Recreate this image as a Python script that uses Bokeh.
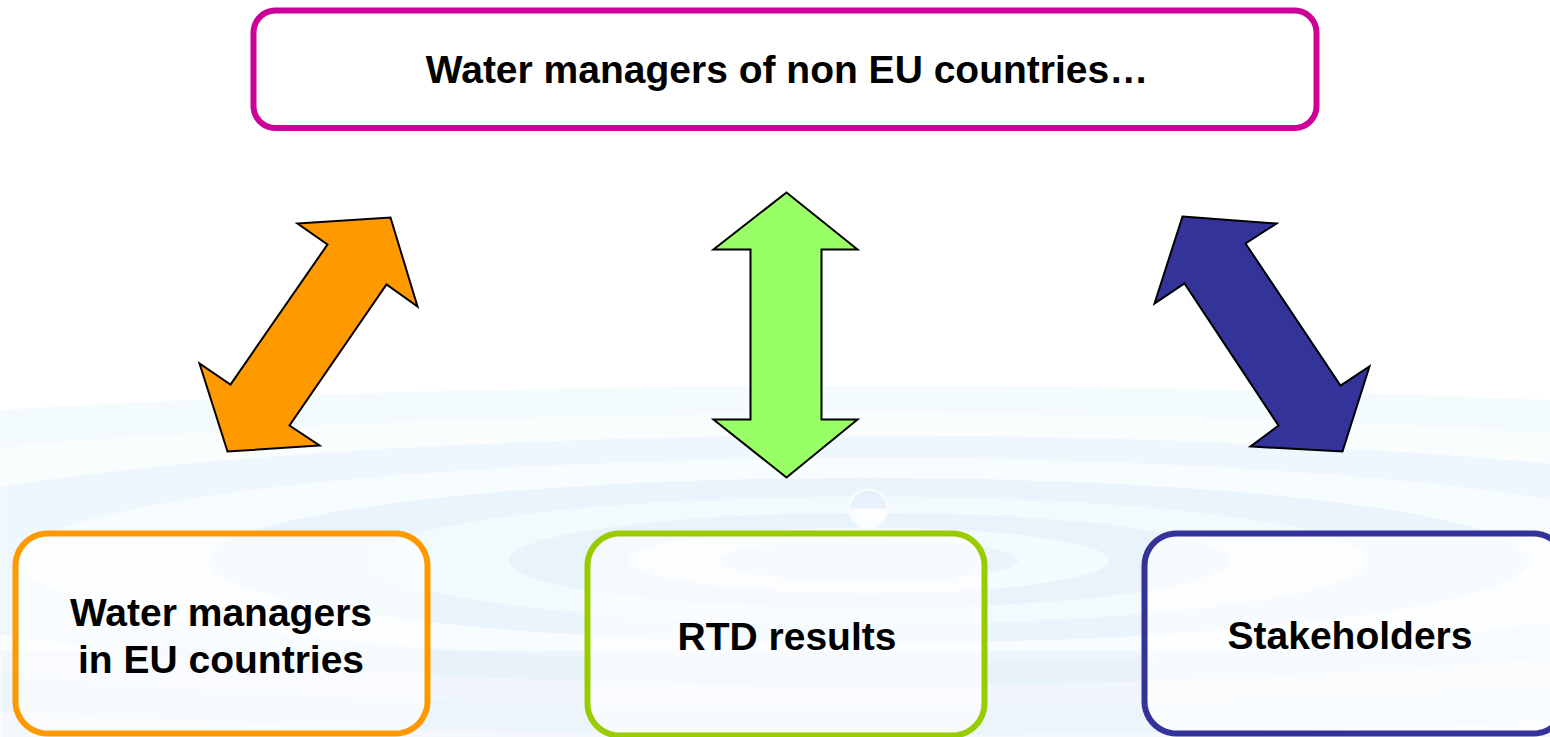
import numpy as np
from bokeh.plotting import figure
from bokeh.models import Range1d
from bokeh.core.properties import value
from bokeh.embed import file_html
from bokeh.resources import INLINE

# ---------------- data ----------------
box_labels = ["top", "eu", "rtd", "stake"]
box_left = [253, 15, 587, 1144]
box_right = [1316, 427, 984, 1565]
box_top = [10, 533, 533, 533]
box_bottom = [127.5, 733, 735, 733]
box_radius = [22, 32, 32, 32]
box_colors = ["#CC0099", "#FF9900", "#99CC00", "#333399"]

text_lines = ["Water managers of non EU countries\u2026", "Water managers", "in EU countries",
              "RTD results", "Stakeholders"]
text_x = [786.5, 220.5, 220.5, 786.5, 1349.5]
text_y = [69, 612, 659, 636, 635]

arrow_colors = ["#FF9900", "#99FF66", "#333399"]
arrow_xs = [
    [297, 390, 417, 386, 289, 319, 227, 199, 230, 327],
    [786, 857, 821, 821, 857, 786, 713, 750, 750, 713],
    [1182, 1276, 1245, 1340, 1369, 1342, 1250, 1278, 1184, 1154],
]
arrow_ys = [
    [223, 217, 306, 284, 425, 445, 451, 363, 384, 244],
    [192, 249, 249, 419, 419, 477, 419, 419, 249, 249],
    [216, 223, 243, 385, 366, 451, 446, 425, 283, 303],
]

# background ripple rings (centre of the drop)
ring_cx = 868
ring_cy = 560
ring_w = [3400, 2700, 2150, 1700, 1320, 1000, 720, 480, 300]
ring_h = [350, 295, 250, 205, 165, 128, 95, 66, 42]
ring_colors = ["#EAF7FC", "#FFFFFF", "#E3F3FB", "#FBFEFF", "#DCEBFA", "#F6FCFF",
               "#DDEBFA", "#F8FDFF", "#E2EEFB"]
ring_alpha = [0.55, 0.6, 0.55, 0.7, 0.5, 0.7, 0.5, 0.75, 0.55]


def rounded_rect(x0, x1, y0, y1, r, n=12):
    xs, ys = [], []
    corners = [(x1 - r, y0 + r, -90, 0), (x1 - r, y1 - r, 0, 90),
               (x0 + r, y1 - r, 90, 180), (x0 + r, y0 + r, 180, 270)]
    for cx, cy, a0, a1 in corners:
        t = np.radians(np.linspace(a0, a1, n))
        xs.extend(cx + r * np.cos(t))
        ys.extend(cy + r * np.sin(t))
    return list(xs), list(ys)


W, H = 1550, 737
p = figure(width=W, height=H, output_backend="svg", toolbar_location=None,
           x_range=Range1d(0, W), y_range=Range1d(H, 0),
           min_border=0, background_fill_color="white", border_fill_color="white")
p.axis.visible = False
p.grid.visible = False
p.outline_line_color = None

# background water ripples
p.ellipse(x=[ring_cx] * len(ring_w), y=[ring_cy] * len(ring_w), width=ring_w, height=ring_h,
          fill_color=ring_colors, fill_alpha=ring_alpha, line_color=None)
# lower wash
p.quad(left=[0], right=[W], top=[650], bottom=[740], fill_color="#DCE9FA", fill_alpha=0.3,
       line_color=None)
# drop
p.circle(x=[ring_cx], y=[508], radius=19, fill_color="#E2ECFA", fill_alpha=0.6,
         line_color="white", line_width=2, line_alpha=0.8)
p.wedge(x=[ring_cx], y=[508], radius=18, start_angle=np.pi, end_angle=2 * np.pi,
        fill_color="white", fill_alpha=0.85, line_color=None, direction="anticlock")

# boxes
bx, by = [], []
for l, r_, t, b, rad in zip(box_left, box_right, box_top, box_bottom, box_radius):
    xs, ys = rounded_rect(l, r_, t, b, rad)
    bx.append(xs)
    by.append(ys)
p.patches(xs=bx, ys=by, fill_color="white", fill_alpha=[1.0, 0.6, 0.6, 0.65],
          line_color=box_colors, line_width=6)

# arrows
p.patches(xs=arrow_xs, ys=arrow_ys, fill_color=arrow_colors, line_color="black",
          line_width=2, line_join="miter")

# texts
p.text(x=text_x, y=text_y, text=text_lines, text_font=value("Liberation Sans"),
       text_font_style="bold", text_font_size="39px", text_align="center",
       text_baseline="alphabetic", text_color="black")

open("out.html", "w").write(file_html(p, INLINE))
